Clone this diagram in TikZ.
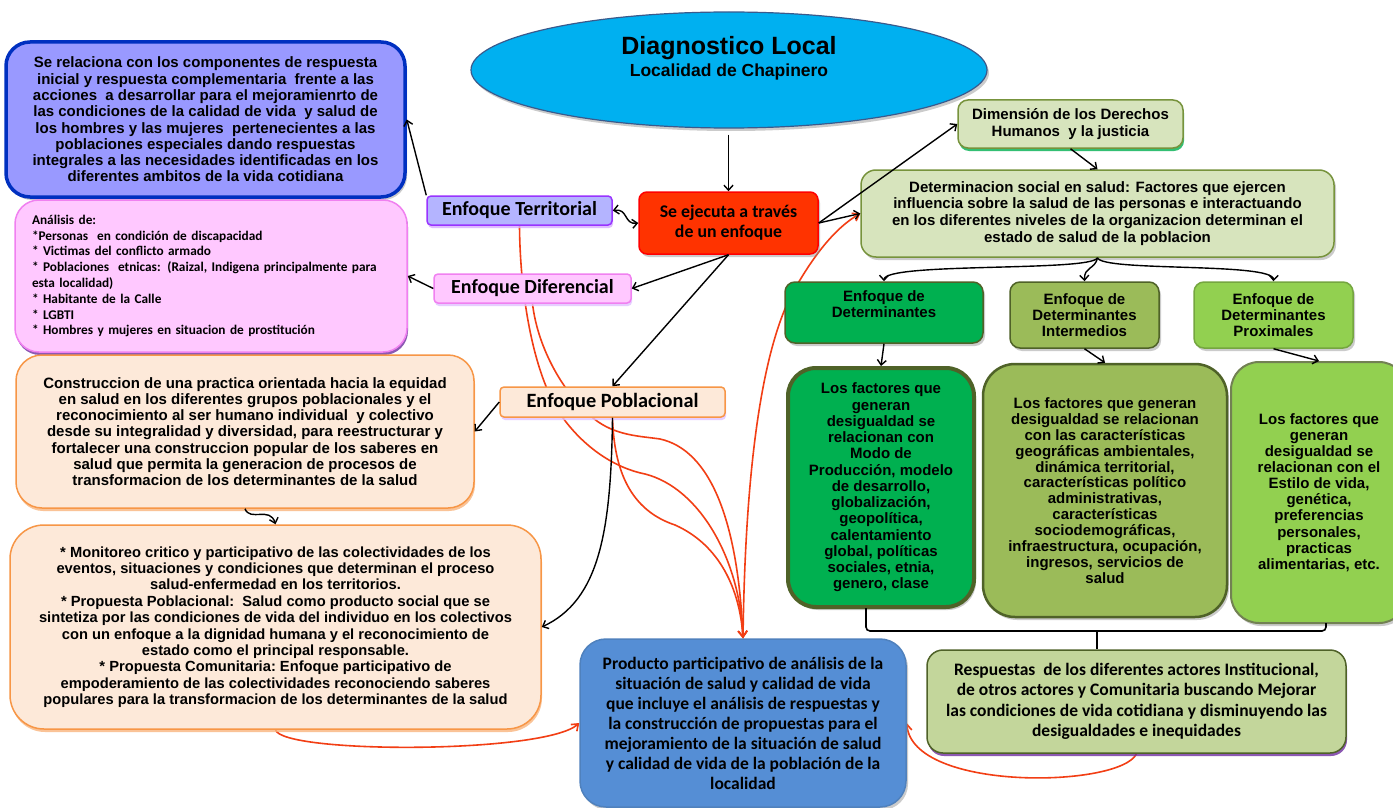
\documentclass[tikz,border=0pt]{standalone}
\usepackage{fontspec}
\setmainfont{Liberation Sans}
\newfontfamily\calib{Carlito}
\usetikzlibrary{shapes.geometric,shadows,arrows.meta}
\pgfdeclarelayer{bg}
\pgfsetlayers{bg,main}
\definecolor{cyanE}{HTML}{00B0F0}
\definecolor{ellB}{HTML}{3A5A8C}
\definecolor{tlbF}{HTML}{9999FF}
\definecolor{tlbD}{HTML}{0030C0}
\definecolor{pinkF}{HTML}{FFC8FF}
\definecolor{pinkD}{HTML}{F080F0}
\definecolor{purG}{HTML}{7030A0}
\definecolor{terrF}{HTML}{B4B4FF}
\definecolor{terrD}{HTML}{9933FF}
\definecolor{sejF}{HTML}{FF3300}
\definecolor{sejD}{HTML}{FF0000}
\definecolor{peachF}{HTML}{FDE9D9}
\definecolor{peachD}{HTML}{F79646}
\definecolor{prodF}{HTML}{558ED5}
\definecolor{prodD}{HTML}{4F81BD}
\definecolor{respF}{HTML}{C3D69B}
\definecolor{oliveD}{HTML}{4F6228}
\definecolor{paleF}{HTML}{D7E4BD}
\definecolor{paleD}{HTML}{77933C}
\definecolor{dgreen}{HTML}{00B050}
\definecolor{mgreen}{HTML}{9BBB59}
\definecolor{lgreen}{HTML}{92D050}
\definecolor{redl}{RGB}{242,62,20}
\newcommand\fsz[2]{\fontsize{#1}{#2}\selectfont\bfseries}
\begin{document}
\begin{tikzpicture}[x=1pt,y=-1pt,
  box/.style={draw, align=center, inner sep=0pt, line width=1.5pt},
  shad/.style={drop shadow={shadow xshift=2pt,shadow yshift=-3pt,opacity=.45,fill=black!45}},
  cshad/.style={drop shadow={shadow xshift=1pt,shadow yshift=-3pt,opacity=.8,fill=#1}},
  arr/.style={-{Straight Barb[length=5pt,width=9pt]}, line width=1.4pt, black},
  arrtwo/.style={{Straight Barb[length=5pt,width=9pt]}-{Straight Barb[length=5pt,width=9pt]}, line width=1.4pt, black},
  rarr/.style={-{Straight Barb[length=6pt,width=9pt]}, line width=1.6pt, redl},
  brk/.style={line width=1.6pt, black, rounded corners=4pt}]
\useasboundingbox (0,0) rectangle (1393,808);
\begin{pgfonlayer}{bg}
\fill[white] (0,0) rectangle (1393,808);
\end{pgfonlayer}

% ---- nodes ----
\node[box, ellipse, fill=cyanE, draw=ellB, line width=1.2pt, minimum width=516pt, minimum height=116pt, shad] (diag) at (729,70) {};
\node[font={\fsz{25}{27}}] (dtitle) at (729,48) {Diagnostico Local};
\node[font={\fsz{17.5}{19}}] (dsub) at (729,72) {Localidad de Chapinero};

\node[box, fill=tlbF, draw=tlbD, line width=3.5pt, rounded corners=24pt, minimum width=399pt, minimum height=155pt, shad, font={\fsz{15}{16.3}}] (tlb) at (205.5,119.5)
{Se relaciona con los componentes de respuesta\\
inicial y respuesta complementaria\ \ frente a las\\
acciones\ \ a desarrollar para el mejoramienrto de\\
las condiciones de la calidad de vida\ \ y salud de\\
los hombres y las mujeres\ \ pertenecientes a las\\
poblaciones especiales dando respuestas\\
integrales a las necesidades identificadas en los\\
diferentes ambitos de la vida cotidiana};

\node[box, fill=pinkF, draw=pinkD, rounded corners=24pt, minimum width=392pt, minimum height=152pt, cshad=purG, align=left, text width=358pt, font={\calib\fsz{13.3}{15.8}}] (pink) at (211,276)
{Análisis de:\\{}*Personas\ \ en condición de discapacidad\\{}* Victimas del conflicto armado\\{}* Poblaciones\ \ etnicas: (Raizal, Indigena principalmente para\\esta localidad)\\{}* Habitante de la Calle\\{}* LGBTI\\{}* Hombres y mujeres en situacion de prostitución};

\node[box, fill=terrF, draw=terrD, rounded corners=4pt, minimum width=185pt, minimum height=29pt, cshad=terrD!40, font={\calib\fsz{20}{21}}] (terr) at (519.5,210.5) {Enfoque Territorial};
\node[box, fill=pinkF, draw=pinkD, rounded corners=4pt, minimum width=197pt, minimum height=29pt, cshad=terrD!30, font={\calib\fsz{20}{21}}] (dif) at (532.5,288.5) {Enfoque Diferencial};
\node[box, fill=sejF, draw=sejD, rounded corners=8pt, minimum width=179pt, minimum height=62pt, shad, font={\calib\fsz{17.8}{20}}] (sej) at (728.5,223) {Se ejecuta a través\\de un enfoque};
\node[box, fill=peachF, draw=peachD, rounded corners=4pt, minimum width=225pt, minimum height=30pt, cshad=terrD!30, font={\calib\fsz{20.3}{21}}] (pob) at (612.5,402) {Enfoque Poblacional};

\node[box, fill=peachF, draw=peachD, rounded corners=26pt, minimum width=458pt, minimum height=153pt, cshad=peachD!70, font={\fsz{15}{16.2}}] (cons) at (245,431.5)
{Construccion de una practica orientada hacia la equidad\\
en salud en los diferentes grupos poblacionales y el\\
reconocimiento al ser humano individual\ \ y colectivo\\
desde su integralidad y diversidad, para reestructurar y\\
fortalecer una construccion popular de los saberes en\\
salud que permita la generacion de procesos de\\
transformacion de los determinantes de la salud};

\node[box, fill=peachF, draw=peachD, rounded corners=34pt, minimum width=531pt, minimum height=204pt, cshad=peachD!70, font={\fsz{14.7}{16.4}}] (mon) at (275.5,627)
{{}* Monitoreo critico y participativo de las colectividades de los\\
eventos, situaciones y condiciones que determinan el proceso\\
salud-enfermedad en los territorios.\\{}* Propuesta Poblacional:\ \ Salud como producto social que se\\
sintetiza por las condiciones de vida del individuo en los colectivos\\
con un enfoque a la dignidad humana y el reconocimiento de\\
estado como el principal responsable.\\{}* Propuesta Comunitaria:\ Enfoque participativo de\\
empoderamiento de las colectividades reconociendo saberes\\
populares para la transformacion de los determinantes de la salud};

\node[box, fill=prodF, draw=prodD, rounded corners=26pt, minimum width=326pt, minimum height=168pt, shad, font={\calib\fsz{17.5}{20}}] (prod) at (743,723)
{Producto participativo de análisis de la\\
situación de salud y calidad de vida\\
que incluye el análisis de respuestas y\\
la construcción de propuestas para el\\
mejoramiento de la situación de salud\\
y calidad de vida de la población de la\\
localidad};

\node[box, fill=respF, draw=oliveD, rounded corners=16pt, minimum width=419pt, minimum height=103pt, cshad=purG, font={\calib\fsz{17.5}{20.5}}] (resp) at (1136.5,701.5)
{Respuestas\ \ de los diferentes actores Institucional,\\
de otros actores y Comunitaria buscando Mejorar\\
las condiciones de vida cotidiana y disminuyendo las\\
desigualdades e inequidades};

\node[box, fill=paleF, draw=paleD, rounded corners=10pt, minimum width=225pt, minimum height=48pt, cshad=dgreen, font={\fsz{15}{16.5}}] (dim) at (1070.5,124) {Dimensión de los Derechos\\Humanos\ \ y la justicia};
\node[box, fill=paleF, draw=paleD, rounded corners=15pt, minimum width=473pt, minimum height=87pt, shad, font={\fsz{15}{16.8}}] (det) at (1097.5,213.5)
{Determinacion social en salud: Factores que ejercen\\
influencia sobre la salud de las personas e interactuando\\
en los diferentes niveles de la organizacion determinan el\\
estado de salud de la poblacion};

\node[box, fill=dgreen, draw=oliveD, rounded corners=10pt, minimum width=198pt, minimum height=61pt, shad, font={\fsz{15}{16.2}}] (edet) at (884,312.5) {Enfoque de\\Determinantes\\\mbox{}};
\node[box, fill=mgreen, draw=oliveD, rounded corners=10pt, minimum width=149pt, minimum height=66pt, shad, font={\fsz{15}{16.2}}] (idet) at (1084.5,315) {Enfoque de\\Determinantes\\Intermedios};
\node[box, fill=lgreen, draw=lgreen!80!black, rounded corners=10pt, minimum width=159pt, minimum height=66pt, shad, font={\fsz{15}{16.2}}] (pdet) at (1273.5,315) {Enfoque de\\Determinantes\\Proximales};

\node[box, fill=dgreen, draw=oliveD, line width=4pt, rounded corners=28pt, minimum width=186pt, minimum height=239pt, shad, font={\fsz{15}{16.25}}] (lfac) at (881,487.5)
{Los factores que\\generan\\desigualdad se\\relacionan con\\Modo de\\Producción, modelo\\de desarrollo,\\globalización,\\geopolítica,\\calentamiento\\global, políticas\\sociales, etnia,\\genero, clase};
\node[box, fill=mgreen, draw=oliveD, line width=2.5pt, rounded corners=32pt, minimum width=244pt, minimum height=253pt, shad, font={\fsz{15}{15.9}}] (mfac) at (1105,490.5)
{Los factores que generan\\desigualdad se relacionan\\con las características\\geográficas ambientales,\\dinámica territorial,\\características político\\administrativas,\\características\\sociodemográficas,\\infraestructura, ocupación,\\ingresos, servicios de\\salud};
\node[box, fill=lgreen, draw=oliveD!80, line width=2pt, rounded corners=28pt, minimum width=176pt, minimum height=261pt, shad, font={\fsz{15}{16.1}}] (rfac) at (1319,492.5)
{Los factores que\\generan\\desigualdad se\\relacionan con el\\Estilo de vida,\\genética,\\preferencias\\personales,\\practicas\\alimentarias, etc.};

% ---- red connectors (behind boxes) ----
\begin{pgfonlayer}{bg}
\draw[rarr] (terr.south) .. controls (520,300) and (535,380) .. (563,418) .. controls (585,448) and (615,468) .. (645,474) .. controls (700,488) and (740,560) .. (prod.north);
\draw[rarr] (dif.south) .. controls (538,350) and (565,395) .. (593,418) .. controls (615,436) and (640,436) .. (660,439) .. controls (710,450) and (738,520) .. (prod.north);
\draw[rarr] (pob.south) .. controls (614,470) and (630,510) .. (675,525) .. controls (720,545) and (740,590) .. (prod.north);
\draw[rarr] (prod.north) .. controls (745,480) and (760,340) .. (800,280) .. controls (815,255) and (835,228) .. (det.west);
\draw[rarr] (mon.south) .. controls (282,754) and (545,754) .. (prod.west);
\draw[rarr] (resp.south) .. controls (1120,788) and (912,792) .. (prod.east);
\end{pgfonlayer}

% ---- black connectors ----
\draw[arr, shorten <=6pt] (diag.south -| sej.north) -- (sej.north);
\draw[arrtwo] (terr.east) .. controls (628,208) and (624,225) .. (sej.west);
\draw[arr] (terr.north west) -- (tlb.east);
\draw[arr] (dif.west) -- (pink.east);
\draw[arr] (sej.south) -- (dif.east);
\draw[arr] (sej.south) -- (pob.north);
\draw[arr] (sej.east) -- (dim.west);
\draw[arr] (sej.east) -- (det.west);
\draw[arr] (dim.south) -- (det.north);
\draw[arr] (pob.west) -- (cons.east);
\draw[arr] (pob.south) .. controls (611,530) and (600,600) .. (mon.east);
\draw[arr] (cons.south) .. controls (250,522) and (270,506) .. (mon.north);
\draw[arr] (det.south) .. controls (1092,272) and (884,262) .. (edet.north);
\draw[arr] (det.south) .. controls (1095,270) and (1084,266) .. (idet.north);
\draw[arr] (det.south) .. controls (1102,272) and (1274,262) .. (pdet.north);
\draw[arr] (edet.south) -- (lfac.north);
\draw[arr] (idet.south) -- (mfac.north);
\draw[arr] (pdet.south) -- (rfac.north);
\coordinate (bA) at (866,608);
\coordinate (bB) at (866,631);
\coordinate (bC) at (1326,631);
\coordinate (bD) at (1326,623);
\coordinate (bM) at (1097,631);
\draw[brk] (bA) -- (bB) -- (bC) -- (bD);
\draw[line width=1.6pt] (bM) -- (bM |- resp.north);
\end{tikzpicture}
\end{document}
